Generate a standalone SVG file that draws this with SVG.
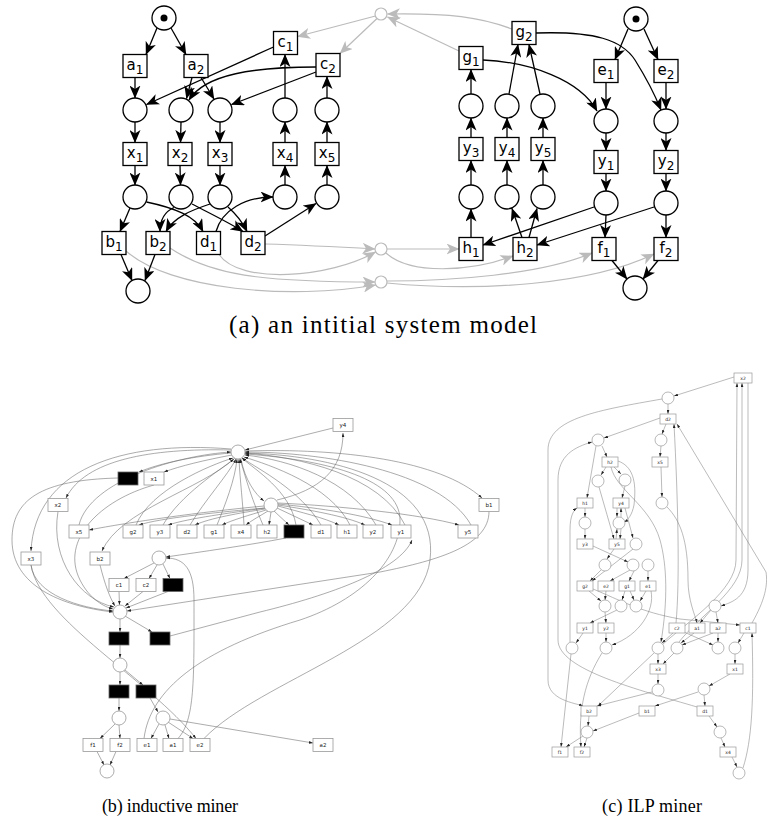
<svg xmlns="http://www.w3.org/2000/svg" width="767" height="825" viewBox="0 0 767 825">
<style>
.bx{fill:#fff;stroke:#000;stroke-width:1.3}
.pl{fill:#fff;stroke:#000;stroke-width:1.3}
.gp{fill:#fff;stroke:#bbb;stroke-width:1.2}
.e{fill:none;stroke:#000;stroke-width:1.3;marker-end:url(#ah)}
.g{fill:none;stroke:#bbb;stroke-width:1.2;marker-end:url(#ag)}
.lb{font-family:"DejaVu Sans",sans-serif;font-size:15px;text-anchor:middle;fill:#000}
.sb{font-size:12px}
.cap{font-family:"Liberation Serif",serif;text-anchor:middle;fill:#000}
.sbx{fill:#fff;stroke:#999;stroke-width:0.8}
.blk{fill:#000;stroke:#666;stroke-width:0.8}
.spl{fill:#fff;stroke:#888;stroke-width:0.7}
.se{fill:none;stroke:#666;stroke-width:0.55;marker-end:url(#as)}
.sl{font-family:"DejaVu Sans",sans-serif;font-size:5.5px;text-anchor:middle;fill:#222}
.cbx{fill:#fff;stroke:#999;stroke-width:0.7}
.cpl{fill:#fff;stroke:#888;stroke-width:0.6}
.ce{fill:none;stroke:#777;stroke-width:0.5;marker-end:url(#as)}
.cl{font-family:"DejaVu Sans",sans-serif;font-size:4.5px;text-anchor:middle;fill:#222}
</style>
<defs>
<marker id="ah" viewBox="0 0 13 11" refX="12.5" refY="5.5" markerWidth="13" markerHeight="11" orient="auto" markerUnits="userSpaceOnUse"><path d="M0,0 L13,5.5 L0,11 L3.5,5.5 z" fill="#000"/></marker>
<marker id="ag" viewBox="0 0 13 11" refX="12.5" refY="5.5" markerWidth="13" markerHeight="11" orient="auto" markerUnits="userSpaceOnUse"><path d="M0,0 L13,5.5 L0,11 L3.5,5.5 z" fill="#bbb"/></marker>
<marker id="as" viewBox="0 0 6 4" refX="6" refY="2" markerWidth="4" markerHeight="3" orient="auto" markerUnits="userSpaceOnUse"><path d="M0,0 L6,2 L0,4 z" fill="#222"/></marker>
</defs>
<rect width="767" height="825" fill="#fff"/>

<!-- ===== (a) connectors ===== -->
<g id="a-connectors">
<path class="g" d="M375.5,16 L297.5,36.5"/>
<path class="g" d="M377,18.5 L340,53.5"/>
<path class="g" d="M459,51 L387.5,17"/>
<path class="g" d="M512,29 C480,17 450,13 387.5,14"/>
<path class="g" d="M265,244 C300,245 340,247 375,249"/>
<path class="g" d="M219,254.5 C240,285 330,278 375.5,252"/>
<path class="g" d="M170,248 C210,275 260,282 375,282"/>
<path class="g" d="M126,251 C170,290 290,300 375.5,285"/>
<path class="g" d="M387,249 L459,249"/>
<path class="g" d="M386,253 C410,275 470,272 513,256"/>
<path class="g" d="M387,281 C450,281 540,275 592,253"/>
<path class="g" d="M387,283 C480,292 590,285 654,254"/>

<path class="e" d="M157,28 L146,54.5"/>
<path class="e" d="M171,28 L186,54.5"/>
<path class="e" d="M135,77.5 L135,98"/>
<path class="e" d="M192,77.5 L186.5,98.5"/>
<path class="e" d="M201,77.5 L214,99"/>
<path class="e" d="M273.5,47 L146.5,104.5"/>
<path class="e" d="M316,67 C255,67 205,74 189,100"/>
<path class="e" d="M316,72 L231.5,104.5"/>
<path class="e" d="M285,98 L285,54.5"/>
<path class="e" d="M327,98 L327,76.5"/>
<path class="e" d="M135,122 L135,142.5"/>
<path class="e" d="M181,122 L180.5,142.5"/>
<path class="e" d="M220,122 L220,142.5"/>
<path class="e" d="M285,142.5 L285,122"/>
<path class="e" d="M327,142.5 L327,122"/>
<path class="e" d="M135,165.5 L135,185"/>
<path class="e" d="M180,165.5 L180.5,185"/>
<path class="e" d="M220,165.5 L220,185"/>
<path class="e" d="M285,185 L285,165.5"/>
<path class="e" d="M327,185 L327,165.5"/>
<path class="e" d="M130,208 L120,231.5"/>
<path class="e" d="M146.5,202 C175,208 195,216 203,231.5"/>
<path class="e" d="M174,207.5 C164,212 160,220 160,231.5"/>
<path class="e" d="M192,204 C207,212 228,222 243,231.5"/>
<path class="e" d="M210,204 C192,210 174,217 166,231.5"/>
<path class="e" d="M228,207 C237,215 243,223 247,231.5"/>
<path class="e" d="M216,231.5 C222,210 245,197 273,197"/>
<path class="e" d="M265,236 L316,203.5"/>
<path class="e" d="M121,254.5 L132,280.5"/>
<path class="e" d="M155,254.5 L145,280.5"/>

<path class="e" d="M628,29 L615,59.5"/>
<path class="e" d="M644,29 L658,59.5"/>
<path class="e" d="M606,82.5 L606,109"/>
<path class="e" d="M666,82.5 L666,109"/>
<path class="e" d="M483,60 C530,62 580,80 597,111"/>
<path class="e" d="M536,33 C595,31 622,40 635,60 C645,76 655,95 661,110"/>
<path class="e" d="M606,133 L606,150.5"/>
<path class="e" d="M666,133 L666,150.5"/>
<path class="e" d="M606,173.5 L606,191"/>
<path class="e" d="M666,173.5 L666,191"/>
<path class="e" d="M594,207 L483,245"/>
<path class="e" d="M654,207 L537,245"/>
<path class="e" d="M606,215 L605,237.5"/>
<path class="e" d="M666,215 L666,237.5"/>
<path class="e" d="M612,260.5 L627,279"/>
<path class="e" d="M658,260.5 L643,279"/>
<path class="e" d="M471,94 L471,69.5"/>
<path class="e" d="M509,94 L518,44.5"/>
<path class="e" d="M540,94 L529,44.5"/>
<path class="e" d="M471,137.5 L471,118"/>
<path class="e" d="M507,137.5 L507,118"/>
<path class="e" d="M543,137.5 L543,118"/>
<path class="e" d="M471,185 L471,160.5"/>
<path class="e" d="M507,185 L507,160.5"/>
<path class="e" d="M543,185 L543,160.5"/>
<path class="e" d="M471,237.5 L471,209"/>
<path class="e" d="M522,237.5 L512,208.5"/>
<path class="e" d="M529,237.5 L537,208.5"/>
</g>

<!-- ===== (a) nodes ===== -->
<g id="a-start1"><circle class="pl" cx="164" cy="18" r="12"/><circle cx="164" cy="18" r="3.5"/></g>
<g id="a-start2"><circle class="pl" cx="636" cy="19" r="12"/><circle cx="636" cy="19" r="3.5"/></g>
<g id="a-gtop"><circle class="gp" cx="381" cy="14" r="6"/></g>
<g id="a-gmid1"><circle class="gp" cx="381" cy="249" r="6"/></g>
<g id="a-gmid2"><circle class="gp" cx="381" cy="282" r="6"/></g>
<g id="a-places">
<circle class="pl" cx="135" cy="110" r="12"/><circle class="pl" cx="181" cy="110" r="12"/><circle class="pl" cx="220" cy="110" r="12"/><circle class="pl" cx="285" cy="110" r="12"/><circle class="pl" cx="327" cy="110" r="12"/>
<circle class="pl" cx="135" cy="197" r="12"/><circle class="pl" cx="181" cy="197" r="12"/><circle class="pl" cx="220" cy="197" r="12"/><circle class="pl" cx="285" cy="197" r="12"/><circle class="pl" cx="327" cy="197" r="12"/>
<circle class="pl" cx="138" cy="291" r="12"/>
<circle class="pl" cx="471" cy="106" r="12"/><circle class="pl" cx="507" cy="106" r="12"/><circle class="pl" cx="543" cy="106" r="12"/>
<circle class="pl" cx="606" cy="121" r="12"/><circle class="pl" cx="666" cy="121" r="12"/>
<circle class="pl" cx="471" cy="197" r="12"/><circle class="pl" cx="507" cy="197" r="12"/><circle class="pl" cx="543" cy="197" r="12"/>
<circle class="pl" cx="606" cy="203" r="12"/><circle class="pl" cx="666" cy="203" r="12"/>
<circle class="pl" cx="635" cy="288" r="12"/>
</g>
<g id="a-a1"><rect class="bx" x="123" y="54.5" width="24" height="23"/><text class="lb" x="135" y="70">a<tspan class="sb" dy="4">1</tspan></text></g>
<g id="a-a2"><rect class="bx" x="184" y="54.5" width="24" height="23"/><text class="lb" x="196" y="70">a<tspan class="sb" dy="4">2</tspan></text></g>
<g id="a-c1"><rect class="bx" x="273.5" y="31.5" width="24" height="23"/><text class="lb" x="285.5" y="47">c<tspan class="sb" dy="4">1</tspan></text></g>
<g id="a-c2"><rect class="bx" x="316" y="53.5" width="24" height="23"/><text class="lb" x="328" y="69">c<tspan class="sb" dy="4">2</tspan></text></g>
<g id="a-x1"><rect class="bx" x="123" y="142.5" width="24" height="23"/><text class="lb" x="135" y="158">x<tspan class="sb" dy="4">1</tspan></text></g>
<g id="a-x2"><rect class="bx" x="168" y="142.5" width="24" height="23"/><text class="lb" x="180" y="158">x<tspan class="sb" dy="4">2</tspan></text></g>
<g id="a-x3"><rect class="bx" x="208" y="142.5" width="24" height="23"/><text class="lb" x="220" y="158">x<tspan class="sb" dy="4">3</tspan></text></g>
<g id="a-x4"><rect class="bx" x="273" y="142.5" width="24" height="23"/><text class="lb" x="285" y="158">x<tspan class="sb" dy="4">4</tspan></text></g>
<g id="a-x5"><rect class="bx" x="315" y="142.5" width="24" height="23"/><text class="lb" x="327" y="158">x<tspan class="sb" dy="4">5</tspan></text></g>
<g id="a-b1"><rect class="bx" x="102" y="231.5" width="24" height="23"/><text class="lb" x="114" y="247">b<tspan class="sb" dy="4">1</tspan></text></g>
<g id="a-b2"><rect class="bx" x="146" y="231.5" width="24" height="23"/><text class="lb" x="158" y="247">b<tspan class="sb" dy="4">2</tspan></text></g>
<g id="a-d1"><rect class="bx" x="196.5" y="231.5" width="24" height="23"/><text class="lb" x="208.5" y="247">d<tspan class="sb" dy="4">1</tspan></text></g>
<g id="a-d2"><rect class="bx" x="241" y="231.5" width="24" height="23"/><text class="lb" x="253" y="247">d<tspan class="sb" dy="4">2</tspan></text></g>
<g id="a-g1"><rect class="bx" x="459" y="46.5" width="24" height="23"/><text class="lb" x="471" y="62">g<tspan class="sb" dy="4">1</tspan></text></g>
<g id="a-g2"><rect class="bx" x="512" y="21.5" width="24" height="23"/><text class="lb" x="524" y="37">g<tspan class="sb" dy="4">2</tspan></text></g>
<g id="a-e1"><rect class="bx" x="594" y="59.5" width="24" height="23"/><text class="lb" x="606" y="75">e<tspan class="sb" dy="4">1</tspan></text></g>
<g id="a-e2"><rect class="bx" x="654" y="59.5" width="24" height="23"/><text class="lb" x="666" y="75">e<tspan class="sb" dy="4">2</tspan></text></g>
<g id="a-y3"><rect class="bx" x="459" y="137.5" width="24" height="23"/><text class="lb" x="471" y="153">y<tspan class="sb" dy="4">3</tspan></text></g>
<g id="a-y4"><rect class="bx" x="495" y="137.5" width="24" height="23"/><text class="lb" x="507" y="153">y<tspan class="sb" dy="4">4</tspan></text></g>
<g id="a-y5"><rect class="bx" x="531" y="137.5" width="24" height="23"/><text class="lb" x="543" y="153">y<tspan class="sb" dy="4">5</tspan></text></g>
<g id="a-y1"><rect class="bx" x="594" y="150.5" width="24" height="23"/><text class="lb" x="606" y="166">y<tspan class="sb" dy="4">1</tspan></text></g>
<g id="a-y2"><rect class="bx" x="654" y="150.5" width="24" height="23"/><text class="lb" x="666" y="166">y<tspan class="sb" dy="4">2</tspan></text></g>
<g id="a-h1"><rect class="bx" x="459" y="237.5" width="24" height="23"/><text class="lb" x="471" y="253">h<tspan class="sb" dy="4">1</tspan></text></g>
<g id="a-h2"><rect class="bx" x="513" y="237.5" width="24" height="23"/><text class="lb" x="525" y="253">h<tspan class="sb" dy="4">2</tspan></text></g>
<g id="a-f1"><rect class="bx" x="592" y="237.5" width="24" height="23"/><text class="lb" x="604" y="253">f<tspan class="sb" dy="4">1</tspan></text></g>
<g id="a-f2"><rect class="bx" x="654" y="237.5" width="24" height="23"/><text class="lb" x="666" y="253">f<tspan class="sb" dy="4">2</tspan></text></g>

<text class="cap" x="383" y="333" font-size="25" textLength="308" lengthAdjust="spacing">(a) an intitial system model</text>

<!-- ===== (b) connectors ===== -->
<g id="b-connectors">
<path class="se" d="M231,453 C195,456 160,463 139,472"/>
<path class="se" d="M232,455 C205,460 180,466 164,472"/>
<path class="se" d="M231,450 C150,448 85,460 66,498"/>
<path class="se" d="M231,449 C120,440 35,470 31,551"/>
<path class="se" d="M235,458 C200,490 120,510 102,551"/>
<path class="se" d="M245,451 C340,448 440,460 482,498"/>
<path class="se" d="M241,459 C245,480 255,494 264,501"/>
<path class="se" d="M333,428 L245,450"/>
<path class="se" d="M277,500 C320,490 343,470 343,433"/>
<path class="se" d="M264,506 C200,512 130,522 89,530"/>
<path class="se" d="M265,508 C220,512 160,518 139,525"/>
<path class="se" d="M265,508 C230,513 190,518 168,525"/>
<path class="se" d="M265,509 C240,513 210,518 195,525"/>
<path class="se" d="M266,510 C250,515 232,520 222,525"/>
<path class="se" d="M268,511 C260,516 252,520 246,525"/>
<path class="se" d="M271,512 L269,525"/>
<path class="se" d="M274,511 L289,525"/>
<path class="se" d="M277,508 L313,525"/>
<path class="se" d="M278,506 C300,512 325,518 339,525"/>
<path class="se" d="M278,505 C310,510 345,516 365,525"/>
<path class="se" d="M278,504 C320,508 365,515 392,525"/>
<path class="se" d="M278,503 C340,506 420,514 459,525"/>
<path class="se" d="M79,525 C90,480 180,455 231,452"/>
<path class="se" d="M136,525 C150,490 210,465 233,458"/>
<path class="se" d="M163,525 C180,495 220,470 234,459"/>
<path class="se" d="M190,525 C205,500 228,475 236,459"/>
<path class="se" d="M217,525 C225,505 235,480 237,459"/>
<path class="se" d="M244,525 C243,505 240,480 239,459"/>
<path class="se" d="M263,525 C250,495 245,475 240,459"/>
<path class="se" d="M296,525 C290,490 255,470 242,458"/>
<path class="se" d="M321,525 C300,490 260,470 242,458"/>
<path class="se" d="M350,525 C330,485 270,465 244,457"/>
<path class="se" d="M376,525 C350,480 290,460 245,455"/>
<path class="se" d="M405,525 C380,475 300,457 245,453"/>
<path class="se" d="M471,525 C440,470 320,452 245,452"/>
<path class="se" d="M154,485 C100,500 60,540 80,580 C90,600 105,607 113,609"/>
<path class="se" d="M31,565 C35,595 80,608 113,611"/>
<path class="se" d="M58,511.5 C50,560 80,600 114,607"/>
<path class="se" d="M100,565 C105,585 110,598 115,606"/>
<path class="se" d="M118,478 C40,480 12,500 12,540 C12,585 60,606 113,612"/>
<path class="se" d="M119,591.5 L119.5,605"/>
<path class="se" d="M143,591.5 L125,606"/>
<path class="se" d="M168,591.5 L126,608"/>
<path class="se" d="M489,511.5 C489,545 440,560 380,572 L127,611"/>
<path class="se" d="M154,563 L124,578.5"/>
<path class="se" d="M157,565 L149,578.5"/>
<path class="se" d="M163,564 L170,578.5"/>
<path class="se" d="M178,738.5 C195,720 194,680 194,600 C194,570 185,558 166,558"/>
<path class="se" d="M286,538 C250,545 200,552 166,557"/>
<path class="se" d="M120,619 L120,632"/>
<path class="se" d="M125,616 L152,632"/>
<path class="se" d="M170,636 L260,612 C330,595 400,570 412,540"/>
<path class="se" d="M120,645 L120,658"/>
<path class="se" d="M120,672 L120,685"/>
<path class="se" d="M125,670 L143,685"/>
<path class="se" d="M119,698 L119,711"/>
<path class="se" d="M150,698 L158,712"/>
<path class="se" d="M115,724 L100,738.5"/>
<path class="se" d="M119,725 L120,738.5"/>
<path class="se" d="M97,751.5 L104,765"/>
<path class="se" d="M116,751.5 L110,765"/>
<path class="se" d="M159,724 L151,738.5"/>
<path class="se" d="M165,725 L169,738.5"/>
<path class="se" d="M168,722 L193,738.5"/>
<path class="se" d="M170,719 L313,743"/>
<path class="se" d="M31,565 C40,620 150,680 196,738.5"/>
<path class="se" d="M204,738.5 C260,680 420,640 430,560 C440,480 330,455 245,453"/>
<path class="se" d="M144,738.5 C150,690 200,650 300,620 C360,600 400,560 400,520 C400,480 330,460 245,454"/>
</g>

<!-- ===== (b) nodes ===== -->
<g id="b-p0"><circle class="spl" cx="238" cy="452" r="7"/></g>
<g id="b-p1"><circle class="spl" cx="271" cy="505" r="7"/></g>
<g id="b-p2"><circle class="spl" cx="159" cy="558" r="7"/></g>
<g id="b-p3"><circle class="spl" cx="120" cy="612" r="7"/></g>
<g id="b-p4"><circle class="spl" cx="120" cy="665" r="7"/></g>
<g id="b-p5"><circle class="spl" cx="119" cy="718" r="7"/></g>
<g id="b-p6"><circle class="spl" cx="163" cy="718" r="7"/></g>
<g id="b-p7"><circle class="spl" cx="107" cy="771" r="7"/></g>
<g id="b-tau1"><rect class="blk" x="118" y="472" width="20" height="13"/></g>
<g id="b-tau2"><rect class="blk" x="163" y="578.5" width="20" height="13"/></g>
<g id="b-tau3"><rect class="blk" x="284" y="525" width="20" height="13"/></g>
<g id="b-tau4"><rect class="blk" x="109" y="632" width="20" height="13"/></g>
<g id="b-tau5"><rect class="blk" x="150" y="632" width="20" height="13"/></g>
<g id="b-tau6"><rect class="blk" x="109" y="685" width="20" height="13"/></g>
<g id="b-tau7"><rect class="blk" x="136" y="685" width="20" height="13"/></g>
<g id="b-x1"><rect class="sbx" x="144" y="472" width="20" height="13"/><text class="sl" x="154" y="480.5">x1</text></g>
<g id="b-x2"><rect class="sbx" x="48" y="498.5" width="20" height="13"/><text class="sl" x="58" y="507">x2</text></g>
<g id="b-y4"><rect class="sbx" x="333" y="418.5" width="20" height="13"/><text class="sl" x="343" y="427">y4</text></g>
<g id="b-b1"><rect class="sbx" x="479" y="498.5" width="20" height="13"/><text class="sl" x="489" y="507">b1</text></g>
<g id="b-x5"><rect class="sbx" x="69" y="525" width="20" height="13"/><text class="sl" x="79" y="533.5">x5</text></g>
<g id="b-g2"><rect class="sbx" x="123" y="525" width="20" height="13"/><text class="sl" x="133" y="533.5">g2</text></g>
<g id="b-y3"><rect class="sbx" x="150" y="525" width="20" height="13"/><text class="sl" x="160" y="533.5">y3</text></g>
<g id="b-d2"><rect class="sbx" x="177" y="525" width="20" height="13"/><text class="sl" x="187" y="533.5">d2</text></g>
<g id="b-g1"><rect class="sbx" x="204" y="525" width="20" height="13"/><text class="sl" x="214" y="533.5">g1</text></g>
<g id="b-x4"><rect class="sbx" x="231" y="525" width="20" height="13"/><text class="sl" x="241" y="533.5">x4</text></g>
<g id="b-h2"><rect class="sbx" x="257" y="525" width="20" height="13"/><text class="sl" x="267" y="533.5">h2</text></g>
<g id="b-d1"><rect class="sbx" x="311" y="525" width="20" height="13"/><text class="sl" x="321" y="533.5">d1</text></g>
<g id="b-h1"><rect class="sbx" x="337" y="525" width="20" height="13"/><text class="sl" x="347" y="533.5">h1</text></g>
<g id="b-y2"><rect class="sbx" x="363" y="525" width="20" height="13"/><text class="sl" x="373" y="533.5">y2</text></g>
<g id="b-y1"><rect class="sbx" x="391" y="525" width="20" height="13"/><text class="sl" x="401" y="533.5">y1</text></g>
<g id="b-y5"><rect class="sbx" x="458" y="525" width="20" height="13"/><text class="sl" x="468" y="533.5">y5</text></g>
<g id="b-x3"><rect class="sbx" x="21" y="552" width="20" height="13"/><text class="sl" x="31" y="560.5">x3</text></g>
<g id="b-b2"><rect class="sbx" x="90" y="552" width="20" height="13"/><text class="sl" x="100" y="560.5">b2</text></g>
<g id="b-c1"><rect class="sbx" x="109" y="578.5" width="20" height="13"/><text class="sl" x="119" y="587">c1</text></g>
<g id="b-c2"><rect class="sbx" x="136" y="578.5" width="20" height="13"/><text class="sl" x="146" y="587">c2</text></g>
<g id="b-f1"><rect class="sbx" x="83" y="738.5" width="20" height="13"/><text class="sl" x="93" y="747">f1</text></g>
<g id="b-f2"><rect class="sbx" x="110" y="738.5" width="20" height="13"/><text class="sl" x="120" y="747">f2</text></g>
<g id="b-e1"><rect class="sbx" x="137" y="738.5" width="20" height="13"/><text class="sl" x="147" y="747">e1</text></g>
<g id="b-a1"><rect class="sbx" x="163" y="738.5" width="20" height="13"/><text class="sl" x="173" y="747">a1</text></g>
<g id="b-e2"><rect class="sbx" x="190" y="738.5" width="20" height="13"/><text class="sl" x="200" y="747">e2</text></g>
<g id="b-a2"><rect class="sbx" x="313" y="738.5" width="20" height="13"/><text class="sl" x="323" y="747">a2</text></g>

<text class="cap" x="170" y="812" font-size="18" textLength="136" lengthAdjust="spacing">(b) inductive miner</text>

<!-- ===== (c) connectors ===== -->
<g id="c-connectors">
<path class="ce" d="M734,377 L674,396"/>
<path class="ce" d="M668,404 L668,414"/>
<path class="ce" d="M662,399 C600,410 548,418 548,450 L548,680 C548,700 575,703 583,706"/>
<path class="ce" d="M660,418 L604,438"/>
<path class="ce" d="M666,424 L662,434"/>
<path class="ce" d="M602,446 L607,457"/>
<path class="ce" d="M596,446 L587,498"/>
<path class="ce" d="M697,707 C640,690 558,670 558,640 L558,480 C558,455 575,447 592,442"/>
<path class="ce" d="M661,446 L660,457"/>
<path class="ce" d="M606,467 L601,475"/>
<path class="ce" d="M614,467 L621,474"/>
<path class="ce" d="M618,461 C632,466 637,480 634,505 C632,515 628,520 624,522"/>
<path class="ce" d="M611,467 C616,490 650,505 660,540 C667,565 668,600 661,642"/>
<path class="ce" d="M661,467 L662,497"/>
<path class="ce" d="M667,507 C680,520 688,540 688,580 C688,600 695,615 697,623"/>
<path class="ce" d="M599,487 L614,539"/>
<path class="ce" d="M625,486 L622,498"/>
<path class="ce" d="M617,508 L617,517"/>
<path class="ce" d="M621,517 L621,508"/>
<path class="ce" d="M616,539 L617,529"/>
<path class="ce" d="M621,529 L620,539"/>
<path class="ce" d="M625,508 L633,538"/>
<path class="ce" d="M585,508 L585,517"/>
<path class="ce" d="M585,529 L585,539"/>
<path class="ce" d="M570,642 L570,530 C570,515 574,510 577,508"/>
<path class="ce" d="M593,546 L628,562"/>
<path class="ce" d="M633,549 L592,581"/>
<path class="ce" d="M614,549 L607,559"/>
<path class="ce" d="M601,570 L590,581"/>
<path class="ce" d="M630,570 L610,581"/>
<path class="ce" d="M634,571 L629,581"/>
<path class="ce" d="M648,571 L648,581"/>
<path class="ce" d="M589,591 L601,601"/>
<path class="ce" d="M606,591 L605,600"/>
<path class="ce" d="M625,591 L622,600"/>
<path class="ce" d="M630,591 L634,600"/>
<path class="ce" d="M646,591 L640,601"/>
<path class="ce" d="M593,589 C620,600 640,612 680,619 L740,625"/>
<path class="ce" d="M617,610 L590,623"/>
<path class="ce" d="M605,612 L606,623"/>
<path class="ce" d="M583,633 L576,643"/>
<path class="ce" d="M606,633 L606,642"/>
<path class="ce" d="M571,654 L561,747"/>
<path class="ce" d="M602,653 C585,680 578,710 581,747"/>
<path class="ce" d="M651,591 C655,610 640,635 612,645"/>
<path class="ce" d="M673,633 L662,643"/>
<path class="ce" d="M684,632 L713,645"/>
<path class="ce" d="M658,654 L658,664"/>
<path class="ce" d="M674,653 L663,664"/>
<path class="ce" d="M694,633 L681,643"/>
<path class="ce" d="M713,633 L682,645"/>
<path class="ce" d="M718,633 L718,642"/>
<path class="ce" d="M711,610 L700,623"/>
<path class="ce" d="M716,612 L718,623"/>
<path class="ce" d="M744,633 L738,643"/>
<path class="ce" d="M735,654 L735,664"/>
<path class="ce" d="M730,674 L709,686"/>
<path class="ce" d="M658,674 L658,684"/>
<path class="ce" d="M652,692 L597,706"/>
<path class="ce" d="M654,653 L598,706"/>
<path class="ce" d="M698,692 L655,706"/>
<path class="ce" d="M704,695 L705,706"/>
<path class="ce" d="M639,713 L593,731"/>
<path class="ce" d="M589,716 L588,726"/>
<path class="ce" d="M583,736 L566,747"/>
<path class="ce" d="M587,738 L584,747"/>
<path class="ce" d="M709,716 L717,727"/>
<path class="ce" d="M721,738 L725,747"/>
<path class="ce" d="M732,757 L737,767"/>
<path class="ce" d="M743,768 C752,740 754,700 752,633"/>
<path class="ce" d="M752,623 C765,600 768,585 766,572 L677,424"/>
<path class="ce" d="M663,644 C690,620 736,590 736,560 L737,383"/>
<path class="ce" d="M679,642 C700,615 742,590 742,560 L742,383"/>
<path class="ce" d="M748,383 L748,570 C748,598 732,602 721,606"/>
<path class="ce" d="M676,623 C680,580 678,500 674,424"/>
</g>

<!-- ===== (c) nodes ===== -->
<g id="c-places">
<circle class="cpl" cx="668" cy="398" r="6"/>
<circle class="cpl" cx="598" cy="440" r="6"/><circle class="cpl" cx="661" cy="440" r="6"/>
<circle class="cpl" cx="598" cy="481" r="6"/><circle class="cpl" cx="625" cy="480" r="6"/>
<circle class="cpl" cx="662" cy="503" r="6"/>
<circle class="cpl" cx="585" cy="523" r="6"/><circle class="cpl" cx="619" cy="523" r="6"/>
<circle class="cpl" cx="636" cy="544" r="6"/>
<circle class="cpl" cx="605" cy="565" r="6"/><circle class="cpl" cx="633" cy="565" r="6"/><circle class="cpl" cx="648" cy="565" r="6"/>
<circle class="cpl" cx="605" cy="606" r="6"/><circle class="cpl" cx="621" cy="606" r="6"/><circle class="cpl" cx="636" cy="606" r="6"/>
<circle class="cpl" cx="715" cy="606" r="6"/>
<circle class="cpl" cx="572" cy="648" r="6"/><circle class="cpl" cx="606" cy="648" r="6"/><circle class="cpl" cx="658" cy="648" r="6"/><circle class="cpl" cx="677" cy="648" r="6"/><circle class="cpl" cx="718" cy="648" r="6"/><circle class="cpl" cx="735" cy="648" r="6"/>
<circle class="cpl" cx="658" cy="690" r="6"/><circle class="cpl" cx="704" cy="689" r="6"/>
<circle class="cpl" cx="587" cy="732" r="6"/><circle class="cpl" cx="720" cy="732" r="6"/>
<circle class="cpl" cx="739" cy="773" r="6"/>
</g>
<g id="c-x2"><rect class="cbx" x="734" y="373" width="18" height="10"/><text class="cl" x="743" y="379.6">x2</text></g>
<g id="c-d2"><rect class="cbx" x="660" y="414" width="16" height="10"/><text class="cl" x="668" y="420.6">d2</text></g>
<g id="c-h2"><rect class="cbx" x="602" y="457" width="16" height="10"/><text class="cl" x="610" y="463.6">h2</text></g>
<g id="c-x5"><rect class="cbx" x="652" y="457" width="16" height="10"/><text class="cl" x="660" y="463.6">x5</text></g>
<g id="c-h1"><rect class="cbx" x="577" y="498" width="16" height="10"/><text class="cl" x="585" y="504.6">h1</text></g>
<g id="c-y4"><rect class="cbx" x="613" y="498" width="16" height="10"/><text class="cl" x="621" y="504.6">y4</text></g>
<g id="c-y3"><rect class="cbx" x="577" y="539" width="16" height="10"/><text class="cl" x="585" y="545.6">y3</text></g>
<g id="c-y5"><rect class="cbx" x="609" y="539" width="16" height="10"/><text class="cl" x="617" y="545.6">y5</text></g>
<g id="c-g2"><rect class="cbx" x="577" y="581" width="16" height="10"/><text class="cl" x="585" y="587.6">g2</text></g>
<g id="c-e2"><rect class="cbx" x="598" y="581" width="16" height="10"/><text class="cl" x="606" y="587.6">e2</text></g>
<g id="c-g1"><rect class="cbx" x="619" y="581" width="16" height="10"/><text class="cl" x="627" y="587.6">g1</text></g>
<g id="c-e1"><rect class="cbx" x="640" y="581" width="16" height="10"/><text class="cl" x="648" y="587.6">e1</text></g>
<g id="c-y1"><rect class="cbx" x="577" y="623" width="16" height="10"/><text class="cl" x="585" y="629.6">y1</text></g>
<g id="c-y2"><rect class="cbx" x="598" y="623" width="16" height="10"/><text class="cl" x="606" y="629.6">y2</text></g>
<g id="c-c2"><rect class="cbx" x="669" y="623" width="16" height="10"/><text class="cl" x="677" y="629.6">c2</text></g>
<g id="c-a1"><rect class="cbx" x="689" y="623" width="16" height="10"/><text class="cl" x="697" y="629.6">a1</text></g>
<g id="c-a2"><rect class="cbx" x="710" y="623" width="16" height="10"/><text class="cl" x="718" y="629.6">a2</text></g>
<g id="c-c1"><rect class="cbx" x="740" y="623" width="16" height="10"/><text class="cl" x="748" y="629.6">c1</text></g>
<g id="c-x3"><rect class="cbx" x="650" y="664" width="16" height="10"/><text class="cl" x="658" y="670.6">x3</text></g>
<g id="c-x1"><rect class="cbx" x="727" y="664" width="16" height="10"/><text class="cl" x="735" y="670.6">x1</text></g>
<g id="c-b2"><rect class="cbx" x="581" y="706" width="16" height="10"/><text class="cl" x="589" y="712.6">b2</text></g>
<g id="c-b1"><rect class="cbx" x="639" y="706" width="16" height="10"/><text class="cl" x="647" y="712.6">b1</text></g>
<g id="c-d1"><rect class="cbx" x="697" y="706" width="16" height="10"/><text class="cl" x="705" y="712.6">d1</text></g>
<g id="c-f1"><rect class="cbx" x="552" y="747" width="16" height="10"/><text class="cl" x="560" y="753.6">f1</text></g>
<g id="c-f2"><rect class="cbx" x="574" y="747" width="16" height="10"/><text class="cl" x="582" y="753.6">f2</text></g>
<g id="c-x4"><rect class="cbx" x="720" y="747" width="16" height="10"/><text class="cl" x="728" y="753.6">x4</text></g>

<text class="cap" x="652" y="812" font-size="18" textLength="100" lengthAdjust="spacing">(c) ILP miner</text>
</svg>
